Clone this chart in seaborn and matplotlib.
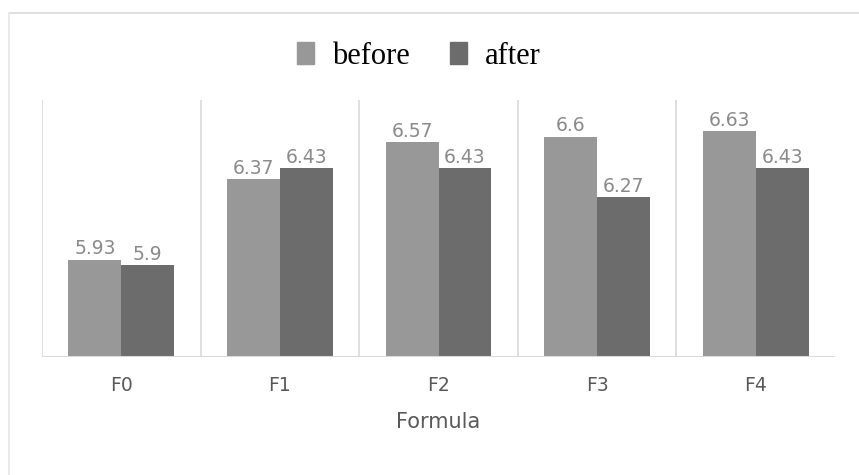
import numpy as np
import pandas as pd
import matplotlib
matplotlib.use("Agg")
import matplotlib.pyplot as plt
import seaborn as sns
from matplotlib.patches import Rectangle
from matplotlib.lines import Line2D

formulas = ["F0", "F1", "F2", "F3", "F4"]
before = [5.93, 6.37, 6.57, 6.6, 6.63]
after = [5.9, 6.43, 6.43, 6.27, 6.43]
labels_before = ["5.93", "6.37", "6.57", "6.6", "6.63"]
labels_after = ["5.9", "6.43", "6.43", "6.27", "6.43"]

df = pd.DataFrame({
    "Formula": formulas * 2,
    "value": before + after,
    "series": ["before"] * 5 + ["after"] * 5,
})

sns.set_style("white")
plt.rcParams["font.family"] = ["DejaVu Sans"]

fig = plt.figure(figsize=(8.59, 4.75), dpi=100)
ax = fig.add_axes([42 / 859, 1 - 357 / 475, (835 - 42) / 859, (357 - 100) / 475])

# chart frame: top and left edge only
top_y = 1 - 13 / 475
left_x = 9 / 859
fig.lines.append(Line2D([left_x, 1.0], [top_y, top_y], transform=fig.transFigure,
                        color="#d9d9d9", linewidth=1.2))
fig.lines.append(Line2D([left_x, left_x], [0, top_y], transform=fig.transFigure,
                        color="#e6e6e6", linewidth=1.2))

sns.barplot(data=df, x="Formula", y="value", hue="series",
            palette=["#989898", "#6c6c6c"], width=0.667, ax=ax,
            saturation=1, linewidth=0, legend=False)

ax.set_ylim(5.4, 6.8)
ax.set_xlim(-0.5, 4.5)
for xv in np.arange(-0.5, 4.0, 1.0):
    ax.axvline(xv, color="#d9d9d9", linewidth=1.2, zorder=0)
ax.axhline(5.4, color="#d9d9d9", linewidth=1.5, zorder=3)

for cont, labs in zip(ax.containers, [labels_before, labels_after]):
    ax.bar_label(cont, labels=labs, color="#8a8a8a", fontsize=13.5, padding=1)

for s in ax.spines.values():
    s.set_visible(False)
ax.set_yticks([])
ax.set_ylabel("")
ax.tick_params(axis="x", length=0, pad=14, labelsize=13.5, labelcolor="#595959")
ax.set_xlabel("Formula", fontsize=15, color="#595959", labelpad=12)

handles = [Rectangle((0, 0), 1, 1, color="#989898"),
           Rectangle((0, 0), 1, 1, color="#6c6c6c")]
fig.legend(handles, ["before", "after"], loc="center", bbox_to_anchor=(419 / 859, 1 - 56 / 475),
           ncol=2, frameon=False, labelcolor="black",
           prop={"family": "Liberation Serif", "size": 22},
           handlelength=0.55, handleheight=0.75, handletextpad=0.6, columnspacing=1.3)

fig.savefig("out.png", dpi=100)
